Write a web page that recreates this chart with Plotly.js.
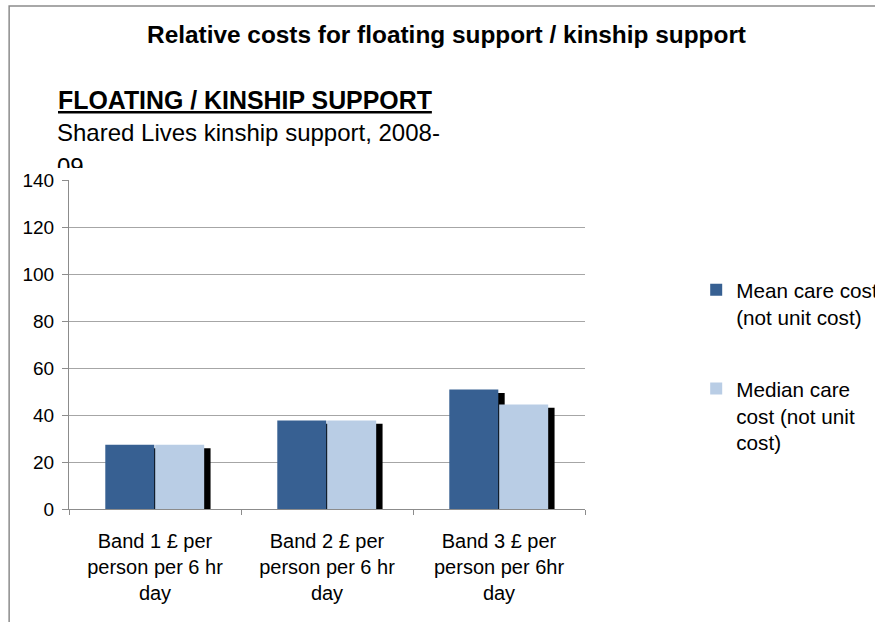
<!DOCTYPE html>
<html>
<head>
<meta charset="utf-8">
<script src="https://cdn.plot.ly/plotly-3.0.1.min.js"></script>
<style>
  html, body { margin: 0; padding: 0; background: #fff; }
  #wrap { position: relative; width: 875px; height: 622px; overflow: hidden; }
  #chart { width: 875px; height: 622px; }
  #mask { position: absolute; left: 55px; top: 168px; width: 40px; height: 11px; background: #fff; }
</style>
</head>
<body>
<div id="wrap">
  <div id="chart"></div>
  <div id="mask"></div>
</div>
<script>
// ---- data ----
const categories = [
  "Band 1 £ per<br>person per 6 hr<br>day",
  "Band 2 £ per<br>person per 6 hr<br>day",
  "Band 3 £ per<br>person per 6hr<br>day"
];
const meanCost = [27.3, 37.7, 50.8];
const medianCost = [27.3, 37.7, 44.5];
const seriesNames = ["Mean care cost<br>(not unit cost)", "Median care<br>cost (not unit<br>cost)"];
const yTicks = [0, 20, 40, 60, 80, 100, 120, 140];

// ---- styles ----
const FONT = "Liberation Sans, Arial, sans-serif";
const barW = 0.285;
const meanOff = -0.289;
const medOff = 0.001;
const shDx = 0.037;   // shadow shift (category units)
const shDy = 1.4;     // shadow shift (value units)

const shadowMean = {
  type: "bar", x: categories, y: meanCost,
  base: meanCost.map(() => -shDy),
  width: barW, offset: meanOff + shDx,
  marker: { color: "#000" }, showlegend: false, hoverinfo: "skip"
};
const shadowMed = {
  type: "bar", x: categories, y: medianCost,
  base: medianCost.map(() => -shDy),
  width: barW, offset: medOff + shDx,
  marker: { color: "#000" }, showlegend: false, hoverinfo: "skip"
};
const meanTrace = {
  type: "bar", name: seriesNames[0], x: categories, y: meanCost,
  width: barW, offset: meanOff, legendgroup: "a",
  marker: { color: "#376092" }
};
const medTrace = {
  type: "bar", name: seriesNames[1], x: categories, y: medianCost,
  width: barW, offset: medOff, legendgroup: "b",
  marker: { color: "#B9CDE5" }
};

const layout = {
  width: 875, height: 622,
  margin: { l: 69, r: 290, t: 180, b: 113, autoexpand: false },
  paper_bgcolor: "#fff", plot_bgcolor: "#fff",
  barmode: "overlay",
  font: { family: FONT, color: "#000" },
  title: {
    text: "<b>Relative costs for floating support / kinship support</b>",
    font: { family: FONT, size: 24.4, color: "#000" },
    x: 0.5103, xanchor: "center", xref: "container",
    y: 0.944, yanchor: "middle", yref: "container"
  },
  xaxis: {
    type: "category",
    showline: true, linecolor: "#8c8c8c", linewidth: 1,
    ticks: "outside", tickson: "boundaries", ticklen: 5, tickcolor: "#8c8c8c",
    tickfont: { family: FONT, size: 20, color: "#000" },
    ticklabelstandoff: 14,
    showgrid: false, zeroline: false, fixedrange: true
  },
  yaxis: {
    range: [0, 140], tickvals: yTicks, ticktext: yTicks.map(String),
    showline: true, linecolor: "#8c8c8c", linewidth: 1,
    ticks: "outside", ticklen: 6, tickcolor: "#8c8c8c",
    showgrid: true, gridcolor: "#a6a6a6", gridwidth: 1,
    zeroline: false,
    tickfont: { family: FONT, size: 19, color: "#000" },
    ticklabelstandoff: 4, fixedrange: true
  },
  legend: {
    x: 1.2155, xanchor: "left", y: 0.727, yanchor: "top",
    font: { family: FONT, size: 20.7, color: "#000" },
    bgcolor: "rgba(0,0,0,0)", borderwidth: 0,
    traceorder: "grouped", tracegroupgap: 42, valign: "top"
  },
  annotations: [
    {
      text: "<b>FLOATING / KINSHIP SUPPORT</b>",
      xref: "paper", yref: "paper", x: -0.0257, y: 1.2432,
      xanchor: "left", yanchor: "middle", showarrow: false,
      font: { family: FONT, size: 24.9, color: "#000", lineposition: "under" }
    },
    {
      text: "Shared Lives kinship support, 2008-",
      xref: "paper", yref: "paper", x: -0.0275, y: 1.1430,
      xanchor: "left", yanchor: "middle", showarrow: false,
      font: { family: FONT, size: 24, color: "#000" }
    },
    {
      text: "09",
      xref: "paper", yref: "paper", x: -0.0275, y: 1.0425,
      xanchor: "left", yanchor: "middle", showarrow: false,
      font: { family: FONT, size: 24, color: "#000" }
    }
  ],
  shapes: [
    {
      type: "rect", xref: "paper", yref: "paper",
      x0: -0.116, x1: 2, y0: -1, y1: 1.529,
      line: { color: "#8c8c8c", width: 1.5 }, fillcolor: "rgba(0,0,0,0)"
    }
  ]
};

Plotly.newPlot("chart", [shadowMean, shadowMed, meanTrace, medTrace], layout, { staticPlot: true, displayModeBar: false });
</script>
</body>
</html>
